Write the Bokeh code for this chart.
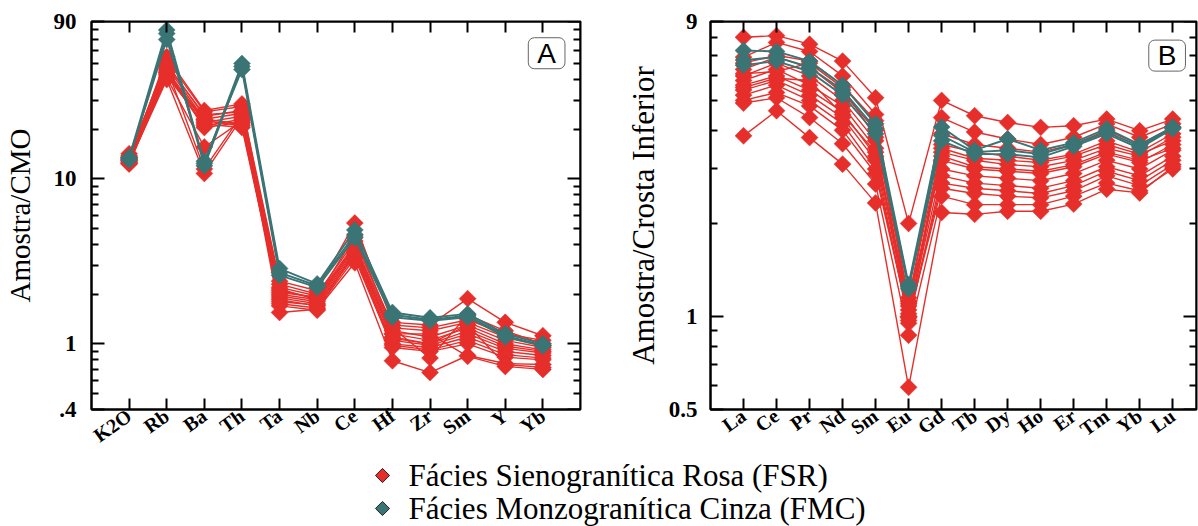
import math
from bokeh.plotting import figure
from bokeh.models import (Range1d, FixedTicker, LinearAxis, LogAxis, Label,
                          CustomJSTickFormatter)
from bokeh.layouts import column, row
from bokeh.embed import file_html
from bokeh.resources import INLINE
from bokeh.core.properties import value

# ---------------- data ----------------
spider_elems = ["K2O", "Rb", "Ba", "Th", "Ta", "Nb", "Ce", "Hf", "Zr", "Sm", "Y", "Yb"]
ree_elems = ["La", "Ce", "Pr", "Nd", "Sm", "Eu", "Gd", "Tb", "Dy", "Ho", "Er", "Tm", "Yb", "Lu"]

# Panel A: sample / CMO  (FSR = red, FMC = teal)
fsr_A = [
    [13.5, 53, 25.5, 27.5, 2.40, 2.10, 5.40, 1.35, 1.30, 1.88, 1.35, 1.12],
    [14.2, 50, 24.0, 26.0, 2.30, 2.00, 4.20, 1.30, 1.25, 1.40, 1.15, 1.05],
    [13.0, 48, 23.0, 25.0, 2.20, 1.95, 4.00, 1.25, 1.20, 1.35, 1.10, 0.98],
    [12.5, 46, 22.0, 24.0, 2.10, 1.90, 3.90, 1.20, 1.10, 1.30, 1.05, 0.95],
    [13.2, 45, 21.0, 23.0, 2.00, 1.85, 3.80, 1.15, 1.05, 1.25, 1.00, 0.92],
    [12.8, 44, 20.5, 22.0, 1.95, 1.80, 3.70, 1.10, 1.00, 1.20, 0.97, 0.90],
    [13.8, 43, 22.5, 21.0, 1.90, 1.75, 3.60, 1.05, 0.98, 1.15, 0.94, 0.88],
    [12.3, 42, 21.5, 20.5, 1.85, 1.70, 3.50, 1.00, 0.95, 1.10, 0.90, 0.85],
    [13.4, 41, 15.6, 22.5, 1.80, 1.72, 3.40, 0.98, 0.92, 1.05, 0.86, 0.82],
    [12.6, 40, 10.8, 23.5, 1.75, 1.65, 3.30, 0.95, 0.90, 1.00, 0.83, 0.80],
    [13.1, 47, 11.5, 24.5, 1.55, 1.62, 3.10, 0.79, 0.67, 0.85, 0.76, 0.75],
    [12.9, 55, 26.0, 28.5, 2.05, 1.92, 4.50, 1.25, 0.82, 1.50, 1.20, 1.00],
    [13.6, 49, 24.5, 25.5, 1.70, 1.60, 3.60, 1.15, 1.15, 0.84, 0.73, 0.70],
    [12.4, 44, 23.0, 21.5, 2.15, 1.85, 3.90, 1.08, 1.00, 1.30, 0.75, 0.72],
]
fmc_A = [
    [13.5, 80, 12.4, 50, 2.86, 2.31, 4.90, 1.55, 1.44, 1.52, 1.15, 1.00],
    [13.0, 76, 12.0, 48, 2.70, 2.25, 4.60, 1.50, 1.40, 1.48, 1.12, 0.98],
    [13.3, 70, 12.8, 46, 2.60, 2.20, 4.40, 1.45, 1.38, 1.45, 1.10, 0.97],
]

# Panel B: sample / lower crust (REE)
fsr_B = [
    [8.00, 8.10, 7.60, 6.70, 5.10, 2.00, 5.00, 4.46, 4.24, 4.09, 4.14, 4.35, 3.99, 4.35],
    [6.90, 7.70, 7.20, 6.00, 4.50, 1.05, 4.40, 3.95, 3.75, 3.60, 3.80, 4.20, 3.80, 4.20],
    [6.30, 6.90, 6.40, 5.30, 4.00, 1.00, 3.60, 3.40, 3.30, 3.20, 3.35, 3.70, 3.40, 3.90],
    [6.00, 6.60, 6.00, 5.00, 3.70, 0.97, 3.40, 3.20, 3.10, 3.05, 3.20, 3.50, 3.30, 3.80],
    [5.80, 6.30, 5.60, 4.80, 3.50, 1.10, 3.20, 3.00, 2.95, 2.90, 3.05, 3.35, 3.15, 3.60],
    [5.60, 6.00, 5.40, 4.60, 3.30, 1.02, 3.00, 2.85, 2.80, 2.75, 2.90, 3.20, 3.00, 3.45],
    [5.40, 5.80, 5.20, 4.40, 3.20, 0.95, 2.85, 2.70, 2.65, 2.60, 2.75, 3.05, 2.85, 3.30],
    [5.20, 5.60, 5.00, 4.20, 3.00, 1.00, 2.70, 2.60, 2.55, 2.50, 2.65, 2.95, 2.75, 3.20],
    [5.00, 5.30, 4.80, 4.00, 2.90, 0.99, 2.60, 2.50, 2.45, 2.42, 2.55, 2.85, 2.65, 3.10],
    [4.90, 5.10, 4.40, 3.62, 2.68, 0.87, 2.45, 2.30, 2.30, 2.30, 2.45, 2.70, 2.55, 3.00],
    [3.84, 4.63, 3.79, 3.11, 2.33, 0.59, 2.17, 2.14, 2.19, 2.19, 2.31, 2.58, 2.51, 3.05],
    [6.60, 7.00, 6.70, 5.60, 4.30, 1.12, 3.90, 3.60, 3.50, 3.40, 3.60, 4.00, 3.60, 4.10],
    [5.50, 5.90, 5.80, 4.50, 3.40, 1.08, 3.30, 3.05, 3.00, 2.95, 3.10, 3.40, 3.20, 3.50],
    [6.10, 6.20, 6.60, 5.50, 3.80, 1.15, 3.50, 3.25, 3.20, 3.15, 3.30, 3.60, 3.35, 3.70],
]
fmc_B = [
    [7.25, 7.20, 6.70, 5.60, 4.20, 1.27, 4.10, 3.45, 3.75, 3.45, 3.65, 4.05, 3.60, 4.10],
    [6.75, 6.90, 6.40, 5.40, 4.05, 1.25, 3.85, 3.40, 3.45, 3.35, 3.60, 3.95, 3.55, 4.08],
    [6.50, 6.70, 6.20, 5.20, 3.90, 1.23, 3.70, 3.35, 3.35, 3.27, 3.55, 3.90, 3.50, 4.05],
]

yA_major = [0.4, 1, 10, 90]
yA_labels = [".4", "1", "10", "90"]
yA_minor = [0.5, 0.6, 0.7, 0.8, 0.9, 2, 3, 4, 5, 6, 7, 8, 9, 20, 30, 40, 50, 60, 70, 80]

yB_major = [0.5, 1, 9]
yB_labels = ["0.5", "1", "9"]
yB_minor = [0.6, 0.7, 0.8, 0.9, 2, 3, 4, 5, 6, 7, 8]

legend_labels = ["Fácies Sienogranítica Rosa (FSR)", "Fácies Monzogranítica Cinza (FMC)"]

# ---------------- style ----------------
RED = "#E62E2B"
TEAL = "#3B7474"
SERIF = "Liberation Serif"
ROW_H = 458
TOTAL_H = 526


def no_grid(p):
    for g in p.grid:
        g.visible = False
        g.grid_line_color = None


def make_panel(cats, red, teal, y0, y1, ymaj, ylab, ymin, x_end, ylabel, width,
               b_left, b_right, ylabel_size, tick_std, lab_std, tag, tag_xy):
    p = figure(width=width, height=ROW_H, x_range=Range1d(0, x_end),
               y_range=Range1d(y0, y1), y_axis_type="log",
               x_axis_location=None, y_axis_location=None,
               output_backend="svg", toolbar_location=None,
               min_border_left=b_left, min_border_right=b_right,
               min_border_top=21, min_border_bottom=30)
    no_grid(p)
    p.background_fill_color = "white"
    p.border_fill_color = "white"
    p.outline_line_color = "black"
    p.outline_line_width = 2
    xs = list(range(1, len(cats) + 1))

    def style(ax):
        ax.axis_line_color = "black"
        ax.axis_line_width = 2
        ax.major_tick_line_color = "black"
        ax.major_tick_line_width = 2
        ax.minor_tick_line_color = "black"
        ax.minor_tick_line_width = 2
        ax.major_tick_out = 0
        ax.minor_tick_out = 0
        ax.major_label_text_color = "black"
        ax.major_label_text_font = SERIF
        ax.major_label_text_font_style = "bold"

    xfmt = CustomJSTickFormatter(args=dict(labels=cats), code="return labels[Math.round(tick) - 1] || '';")
    yfmt = CustomJSTickFormatter(args=dict(vals=ymaj, labels=ylab),
                                 code="const i = vals.indexOf(tick); return i >= 0 ? labels[i] : '';")
    blank = CustomJSTickFormatter(code="return '';")

    bottom = LinearAxis(ticker=FixedTicker(ticks=xs), formatter=xfmt)
    style(bottom)
    bottom.major_tick_in = 11
    bottom.major_label_text_font_size = "20px"
    bottom.major_label_orientation = 0.62
    bottom.major_label_standoff = 4
    p.add_layout(bottom, "below")

    top = LinearAxis(ticker=FixedTicker(ticks=xs), formatter=blank, fixed_location=y1)
    style(top)
    top.major_tick_in = 11
    top.major_label_standoff = 0
    p.add_layout(top, "above")

    left = LogAxis(ticker=FixedTicker(ticks=ymaj, minor_ticks=ymin), formatter=yfmt)
    style(left)
    left.major_tick_in = 13
    left.minor_tick_in = 7
    left.major_label_text_font_size = "23px"
    left.major_label_standoff = tick_std
    left.axis_label = ylabel
    left.axis_label_text_font = SERIF
    left.axis_label_text_font_style = "normal"
    left.axis_label_text_font_size = ylabel_size
    left.axis_label_text_color = "black"
    left.axis_label_standoff = lab_std
    p.add_layout(left, "left")

    right = LogAxis(ticker=FixedTicker(ticks=ymaj, minor_ticks=ymin), formatter=blank,
                    fixed_location=x_end)
    style(right)
    right.major_tick_in = 13
    right.minor_tick_in = 7
    right.major_label_standoff = 0
    p.add_layout(right, "right")

    for group, color, lw in ((red, RED, 1.4), (teal, TEAL, 1.9)):
        for ser in group:
            p.line(xs, ser, line_color=color, line_width=lw)
        for ser in group:
            p.scatter(xs, ser, marker="square", angle=math.pi / 4, size=12,
                      fill_color=color, line_color=color, line_width=0.5)

    p.add_layout(Label(x=tag_xy[0], y=tag_xy[1], text=tag, text_align="center",
                       text_baseline="middle", text_font="Liberation Sans",
                       text_font_size="28px", text_color="black",
                       border_line_color="#666666", border_line_width=1,
                       background_fill_color="white", padding=dict(x=9, y=0),
                       border_radius=6))
    return p


pA = make_panel(spider_elems, fsr_A, fmc_A, 0.4, 90, yA_major, yA_labels, yA_minor,
                13, "Amostra/CMO", 600, 87, 20, "29px", 15, 15, "A", (12.1, 57.8))
pB = make_panel(ree_elems, fsr_B, fmc_B, 0.5, 9, yB_major, yB_labels, yB_minor,
                14.72, "Amostra/Crosta Inferior", 598, 110, 2, "31px", 13, 5, "B", (13.83, 6.98))

# ---------------- legend strip ----------------
LEG_H = TOTAL_H - ROW_H
pL = figure(width=1198, height=LEG_H, x_range=Range1d(0, 1198), y_range=Range1d(LEG_H, 0),
            x_axis_location=None, y_axis_location=None, output_backend="svg",
            toolbar_location=None, min_border=0, min_border_left=0, min_border_right=0,
            min_border_top=0, min_border_bottom=0)
no_grid(pL)
pL.outline_line_color = None
pL.background_fill_color = "white"
pL.border_fill_color = "white"
leg_y = [475 - ROW_H, 508 - ROW_H]
pL.scatter([382, 382], leg_y, marker="square", angle=math.pi / 4, size=10,
           fill_color=[RED, TEAL], line_color="#222222", line_width=1)
pL.text([408, 408], leg_y, text=legend_labels, text_font=value(SERIF),
        text_font_size="31px", text_baseline="middle", text_color="black")

layout = column(row(pA, pB), pL)
open("out.html", "w").write(file_html(layout, INLINE))
